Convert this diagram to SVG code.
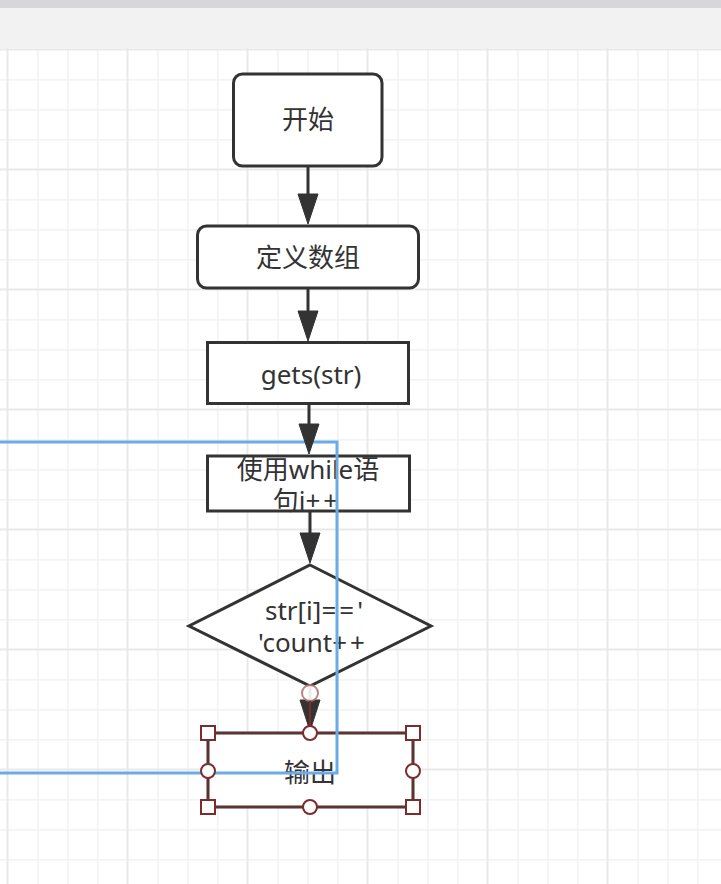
<svg xmlns="http://www.w3.org/2000/svg" width="721" height="884" viewBox="0 0 721 884">
<style>
.box{fill:#ffffff;stroke:#333333;stroke-width:3}
.lbl{font-family:"Noto Sans","Noto Sans CJK SC",sans-serif;font-size:26px;fill:#333333;text-anchor:middle}
.op{letter-spacing:3px}
.edge{stroke:#333333;stroke-width:3;fill:none}
.head{fill:#333333;stroke:#333333;stroke-width:1}
.hsq{fill:#ffffff;stroke:#7d2b2b;stroke-width:2}
.hci{fill:#ffffff;stroke:#7d2b2b;stroke-width:2}
</style>
<defs>
<pattern id="grid" patternUnits="userSpaceOnUse" x="6" y="48" width="120" height="120">
<rect x="0" y="0" width="120" height="120" fill="#ffffff"/>
<rect x="31" y="0" width="1.6" height="120" fill="#f3f3f3"/>
<rect x="61" y="0" width="1.6" height="120" fill="#f3f3f3"/>
<rect x="91" y="0" width="1.6" height="120" fill="#f3f3f3"/>
<rect x="0" y="31" width="120" height="1.6" fill="#f3f3f3"/>
<rect x="0" y="61" width="120" height="1.6" fill="#f3f3f3"/>
<rect x="0" y="91" width="120" height="1.6" fill="#f3f3f3"/>
<rect x="0.5" y="0" width="2" height="120" fill="#e9e9e9"/>
<rect x="0" y="0.5" width="120" height="2" fill="#e9e9e9"/>
</pattern>
</defs>
<rect x="0" y="0" width="721" height="884" fill="#ffffff"/>
<rect x="0" y="0" width="721" height="8" fill="#d7d7db"/>
<rect x="0" y="8" width="721" height="40" fill="#f2f2f2"/>
<rect x="0" y="48" width="721" height="836" fill="url(#grid)"/>

<g id="node-start">
<rect class="box" x="233.5" y="74" width="148.5" height="92" rx="9"/>
<text class="lbl" x="308" y="129">开始</text>
</g>
<g id="node-define">
<rect class="box" x="197.5" y="226" width="221" height="62" rx="9"/>
<text class="lbl" x="308" y="267">定义数组</text>
</g>
<g id="node-gets">
<rect class="box" x="207.5" y="342.5" width="201" height="61"/>
<text class="lbl" x="311" y="384">gets(str)</text>
</g>
<g id="node-while">
<rect class="box" x="207.5" y="456" width="202" height="55"/>
<text class="lbl" x="308" y="479">使用while语</text>
<text class="lbl" x="307" y="510">句i<tspan class="op">++</tspan></text>
</g>
<g id="node-decision">
<polygon class="box" points="310,565 431,626 310,686 189,626"/>
<text class="lbl" x="314" y="620">str[i]<tspan class="op">==</tspan>'</text>
<text class="lbl" x="313" y="652">'count<tspan class="op">++</tspan></text>
</g>
<g id="node-output">
<rect x="208" y="733" width="205" height="74" fill="#ffffff" stroke="#333333" stroke-width="3"/>
<rect x="208" y="733" width="205" height="74" fill="none" stroke="#7a3030" stroke-width="1.4"/>
<text class="lbl" x="310" y="782">输出</text>
</g>

<g id="frame">
<rect x="-10" y="442" width="347" height="331" fill="none" stroke="#6aade6" stroke-width="3"/>
</g>

<g id="connectors">
<line class="edge" x1="308" y1="166" x2="308" y2="196"/>
<polygon class="head" points="298,194 318,194 308,224"/>
<line class="edge" x1="308" y1="288" x2="308" y2="313"/>
<polygon class="head" points="298,311 318,311 308,341"/>
<line class="edge" x1="309" y1="404" x2="309" y2="426"/>
<polygon class="head" points="299,424 319,424 309,454"/>
<line class="edge" x1="310" y1="511" x2="310" y2="535"/>
<polygon class="head" points="300,533 320,533 310,563"/>
<line class="edge" x1="310" y1="686" x2="310" y2="702"/>
<polygon class="head" points="300,700 320,700 310,731"/>
</g>

<g id="selection">
<circle cx="310" cy="693" r="8" fill="#ffffff" stroke="#b57878" stroke-width="2" opacity="0.9"/>
<line x1="310" y1="701" x2="310" y2="733" stroke="#7d2b2b" stroke-width="2"/>
<rect class="hsq" x="201" y="726" width="14" height="14"/>
<rect class="hsq" x="406" y="726" width="14" height="14"/>
<rect class="hsq" x="201" y="800" width="14" height="14"/>
<rect class="hsq" x="406" y="800" width="14" height="14"/>
<circle class="hci" cx="310" cy="733" r="7"/>
<circle class="hci" cx="310" cy="807" r="7"/>
<circle class="hci" cx="208" cy="771" r="7"/>
<circle class="hci" cx="413" cy="771" r="7"/>
</g>
</svg>
